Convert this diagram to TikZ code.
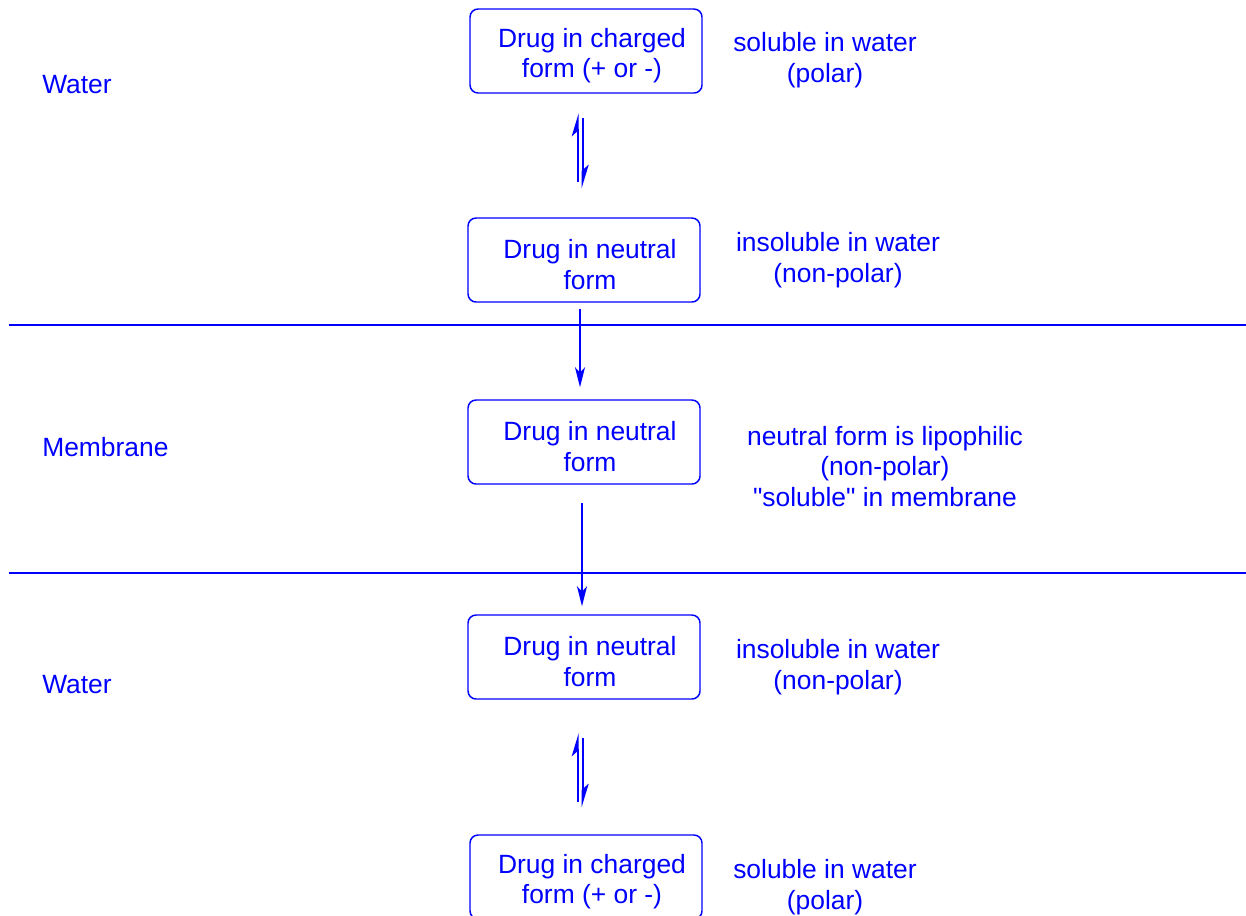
\documentclass[tikz,border=0pt]{standalone}
\usepackage{fontspec}
\setmainfont{Liberation Sans}
\usetikzlibrary{arrows.meta, positioning}
\definecolor{drugblue}{HTML}{0000FF}

\begin{document}
\begin{tikzpicture}[
  x=0.75pt, y=-0.75pt,
  form/.style={draw=drugblue, rounded corners=6pt, line width=1.1pt, minimum width=174pt, minimum height=63pt, inner sep=0pt},
  formtext/.style={align=center, text=drugblue, font=\fontsize{19.8}{23.2}\selectfont, inner sep=0pt, xshift=4.5pt, yshift=-3.5pt},
  note/.style={align=center, text=drugblue, font=\fontsize{19.8}{23.2}\selectfont, inner sep=0pt},
  zone/.style={anchor=west, text=drugblue, font=\fontsize{19.8}{23.2}\selectfont, inner sep=0pt},
  wall/.style={drugblue, line width=1pt},
  flow/.style={-{Stealth[length=15pt, width=7.5pt, inset=4pt]}, line width=1.5pt, drugblue},
  harp/.style={-{Stealth[harpoon, length=15pt, width=9pt, inset=4pt]}, line width=1.5pt, drugblue}
]
\useasboundingbox (0,0) rectangle (1246,915);

% Membrane boundaries
\draw[wall] (9,325) -- (1246,325);
\draw[wall] (9,573) -- (1246,573);

% Compartment labels
\node[zone] (w1) at (42,85) {Water};
\node[zone] (mem) at (42,447) {Membrane};
\node[zone] (w2) at (42,685) {Water};

% Drug forms (centre column)
\node[form, label={[formtext]center:{Drug in charged\\ form (+ or -)}}] (b1) at (586,51) {};
\node[form, label={[formtext]center:{Drug in neutral\\ form}}] (b2) at (584,260) {};
\node[form, label={[formtext]center:{Drug in neutral\\ form}}] (b3) at (584,442) {};
\node[form, label={[formtext]center:{Drug in neutral\\ form}}] (b4) at (584,657) {};
\node[form, label={[formtext]center:{Drug in charged\\ form (+ or -)}}] (b5) at (586,877) {};

% Solubility notes
\node[note] (n1) at (825,60.5) {soluble in water\\ (polar)};
\node[note] (n2) at (838,260) {insoluble in water\\ (non-polar)};
\node[note] (n3) at (885,466.5) {neutral form is lipophilic\\ (non-polar)\\ \textquotedbl{}soluble\textquotedbl{} in membrane};
\node[note] (n4) at (838,667.5) {insoluble in water\\ (non-polar)};
\node[note] (n5) at (825,887.5) {soluble in water\\ (polar)};

% Equilibria (water side)
\coordinate (e1a) at (577.7,182);
\coordinate (e1b) at (577.7,113);
\coordinate (e1c) at (582.7,118);
\coordinate (e1d) at (582.7,188);
\draw[harp] (e1a) -- (e1b);
\draw[harp] (e1c) -- (e1d);

\coordinate (e2a) at (577.7,802);
\coordinate (e2b) at (577.7,733);
\coordinate (e2c) at (582.7,738);
\coordinate (e2d) at (582.7,807);
\draw[harp] (e2a) -- (e2b);
\draw[harp] (e2c) -- (e2d);

% Passage through the membrane
\draw[flow, shorten <=4.5pt, shorten >=9pt] ([xshift=-3pt]b2.south) -- ([xshift=-3pt]b3.north);
\draw[flow, shorten <=14pt, shorten >=6pt] ([xshift=-1.5pt]b3.south) -- ([xshift=-1.5pt]b4.north);

\end{tikzpicture}
\end{document}
